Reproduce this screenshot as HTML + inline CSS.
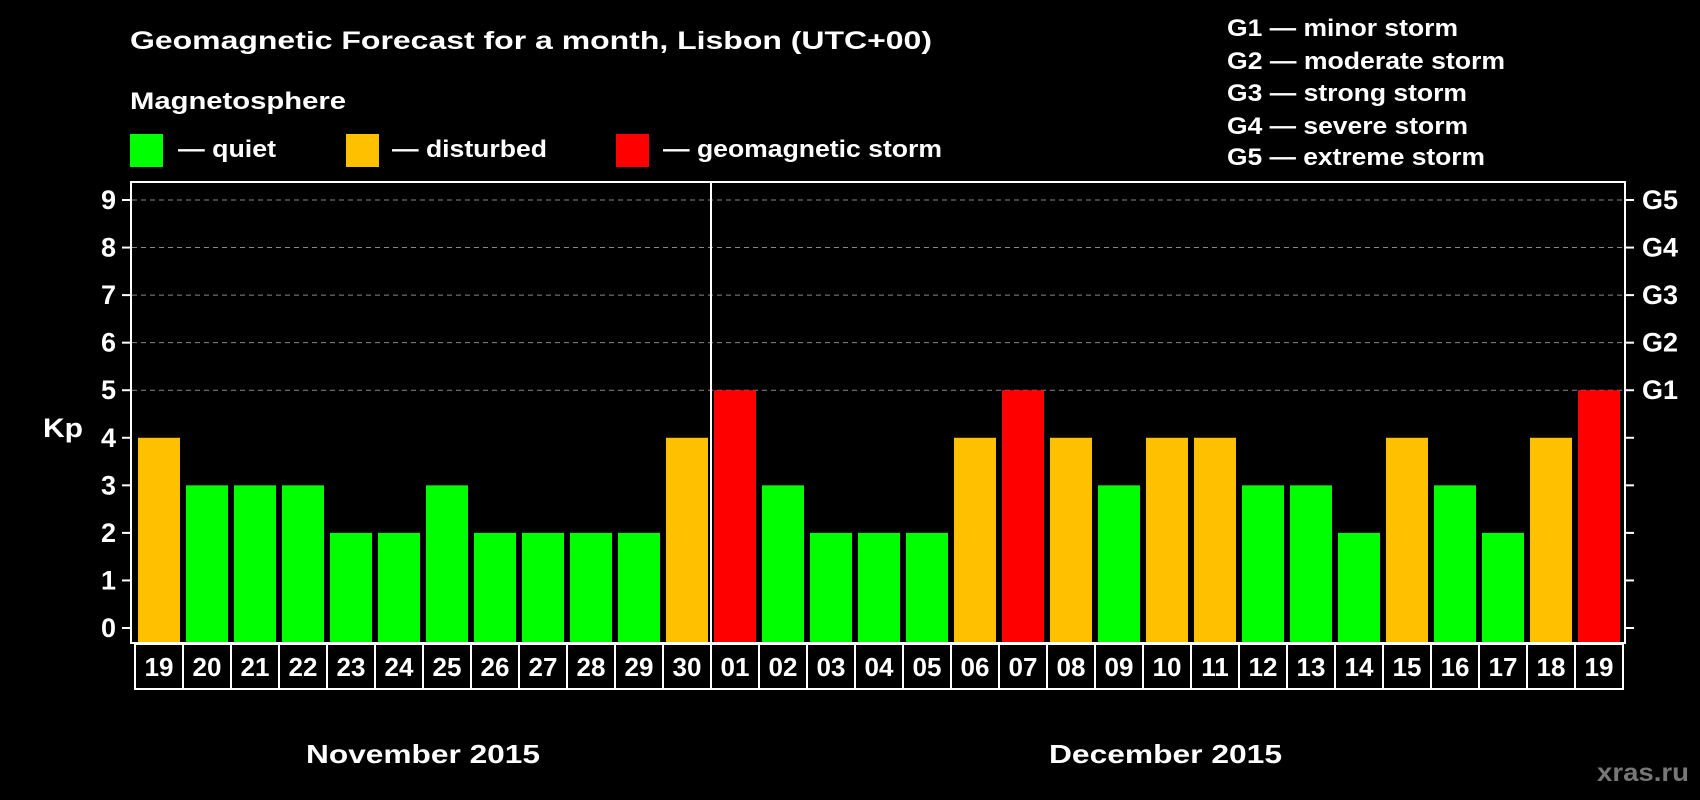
<!DOCTYPE html>
<html><head><meta charset="utf-8"><style>
html,body{margin:0;padding:0;background:#000;}
svg{display:block;font-family:"Liberation Sans",Arial,sans-serif;font-weight:bold;}
</style></head><body>
<svg id="chart" width="1700" height="800" viewBox="0 0 1700 800">
<rect width="1700" height="800" fill="#000"/>
<text x="130" y="49" fill="#fff" font-size="25" textLength="802" lengthAdjust="spacingAndGlyphs">Geomagnetic Forecast for a month, Lisbon (UTC+00)</text>
<text x="130" y="109" fill="#fff" font-size="24" textLength="216" lengthAdjust="spacingAndGlyphs">Magnetosphere</text>
<g><rect x="130" y="134" width="33" height="33" fill="#00ff00"/><text x="178" y="157" fill="#fff" font-size="24" textLength="98" lengthAdjust="spacingAndGlyphs">— quiet</text></g>
<g><rect x="346" y="134" width="33" height="33" fill="#ffc000"/><text x="392" y="157" fill="#fff" font-size="24" textLength="155" lengthAdjust="spacingAndGlyphs">— disturbed</text></g>
<g><rect x="616" y="134" width="33" height="33" fill="#ff0000"/><text x="663" y="157" fill="#fff" font-size="24" textLength="279" lengthAdjust="spacingAndGlyphs">— geomagnetic storm</text></g>
<g fill="#fff" font-size="24">
<text x="1227" y="36" textLength="231" lengthAdjust="spacingAndGlyphs">G1 — minor storm</text>
<text x="1227" y="69" textLength="278" lengthAdjust="spacingAndGlyphs">G2 — moderate storm</text>
<text x="1227" y="101" textLength="240" lengthAdjust="spacingAndGlyphs">G3 — strong storm</text>
<text x="1227" y="134" textLength="241" lengthAdjust="spacingAndGlyphs">G4 — severe storm</text>
<text x="1227" y="165" textLength="258" lengthAdjust="spacingAndGlyphs">G5 — extreme storm</text>
</g>
<text x="43" y="437" fill="#fff" font-size="27" textLength="40" lengthAdjust="spacingAndGlyphs">Kp</text>
<g id="grid"></g>
<g id="bars"></g>
<rect x="131" y="182" width="1494" height="461" fill="none" stroke="#fff" stroke-width="2"/>
<line x1="711" y1="182" x2="711" y2="643" stroke="#fff" stroke-width="2"/>
<g id="axes"></g>
<text x="306" y="763" fill="#fff" font-size="26" textLength="234" lengthAdjust="spacingAndGlyphs">November 2015</text>
<text x="1049" y="763" fill="#fff" font-size="26" textLength="233" lengthAdjust="spacingAndGlyphs">December 2015</text>
<text x="1597" y="781" fill="#777" font-size="25" textLength="92" lengthAdjust="spacingAndGlyphs">xras.ru</text>
</svg>
<script>
const days = ["19","20","21","22","23","24","25","26","27","28","29","30","01","02","03","04","05","06","07","08","09","10","11","12","13","14","15","16","17","18","19"];
const kpValues = [4,3,3,3,2,2,3,2,2,2,2,4,5,3,2,2,2,4,5,4,3,4,4,3,3,2,4,3,2,4,5];
const yTicks = [0,1,2,3,4,5,6,7,8,9];
const gLabels = ["G1","G2","G3","G4","G5"];
const NS="http://www.w3.org/2000/svg";
const x0=135, pitch=48, y0=628, unit=(628-200)/9, plotBottom=643;
const yScale=v=>y0-v*unit;
const xScale=i=>x0+i*pitch;
function mk(tag,attrs,parent){const e=document.createElementNS(NS,tag);for(const k in attrs)e.setAttribute(k,attrs[k]);parent.appendChild(e);return e;}
const grid=document.getElementById('grid'),bars=document.getElementById('bars'),axes=document.getElementById('axes');
yTicks.forEach(v=>{
  const y=yScale(v);
  if(v>=5){const g=mk('line',{x1:132,x2:1624,y1:y,y2:y,stroke:'#888','stroke-dasharray':'5,4','stroke-width':1},grid);
  
  }
  const t1=mk('line',{x1:122,x2:131,y1:y,y2:y,stroke:'#fff','stroke-width':2},axes);
  
  
  const t2=mk('line',{x1:1625,x2:1634,y1:y,y2:y,stroke:'#fff','stroke-width':2},axes);
  
  
  const l=mk('text',{x:116,y:y+9,fill:'#fff','font-size':27,'text-anchor':'end'},axes);l.textContent=v;
  
  
});
gLabels.forEach((g,i)=>{
  const l=mk('text',{x:1642,y:yScale(5+i)+9,fill:'#fff','font-size':27},axes);l.textContent=g;
  
  
});
kpValues.forEach((v,i)=>{
  const c=v>=5?'#ff0000':(v>=4?'#ffc000':'#00ff00');
  const b=mk('rect',{x:xScale(i)+3,y:yScale(v),width:42,height:plotBottom-yScale(v),fill:c},bars);
  
  
  const box=mk('rect',{x:xScale(i),y:644,width:pitch,height:45,fill:'none',stroke:'#fff','stroke-width':2},axes);
  
  
  const t=mk('text',{x:xScale(i)+pitch/2,y:676,fill:'#fff','font-size':26,'text-anchor':'middle'},axes);t.textContent=days[i];
  
  
});
</script>
</body></html>
